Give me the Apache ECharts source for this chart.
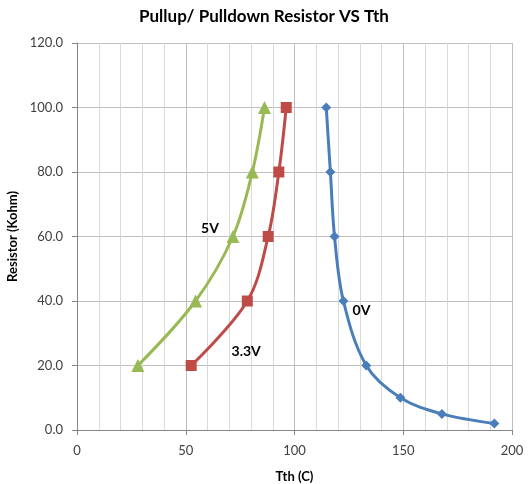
<!DOCTYPE html>
<html><head><meta charset="utf-8">
<script src="https://cdn.jsdelivr.net/npm/echarts@6/dist/echarts.min.js"></script>
<style>html,body{margin:0;padding:0;background:#fff}#c{width:528px;height:484px}</style>
</head><body><div id="c"></div>
<script>
const xTicks = [0, 50, 100, 150, 200];
const yTicks = [0, 20, 40, 60, 80, 100, 120];
const tth0V = [114.6, 116.5, 118.4, 122.5, 133.0, 148.7, 167.8, 191.9];
const res0V = [100, 80, 60, 40, 20, 10, 5, 2];
const tth33V = [52.5, 78.3, 87.9, 92.8, 96.2];
const res33V = [20, 40, 60, 80, 100];
const tth5V = [28.0, 54.5, 71.7, 80.6, 86.2];
const res5V = [20, 40, 60, 80, 100];
const seriesNames = ['0V', '3.3V', '5V'];
const labelIndex = [3, 0, 2];
const labelOffsets = [[18, 9], [55, -14], [-23, -8]];

const FONT = 'Lato, "Open Sans", sans-serif';
function mk(xs, ys, idx) {
  return xs.map((x, i) => {
    const d = { value: [x, ys[i]] };
    if (i === labelIndex[idx]) {
      d.label = { show: true, formatter: seriesNames[idx], position: 'inside', offset: labelOffsets[idx],
        fontWeight: 'bold', fontSize: 14, color: '#000', fontFamily: FONT };
    }
    return d;
  });
}
const colors = ['#4a7ebb', '#be4b48', '#98b954'];
const symbols = ['diamond', 'rect', 'triangle'];
const data = [mk(tth0V, res0V, 0), mk(tth33V, res33V, 1), mk(tth5V, res5V, 2)];
const chart = echarts.init(document.getElementById('c'));
chart.setOption({
  animation: false,
  title: { text: 'Pullup/ Pulldown Resistor VS Tth', left: 'center', top: 3,
    textStyle: { fontFamily: FONT, fontSize: 17, fontWeight: 'bold', color: '#000' } },
  grid: { left: 77, right: 16, top: 43, bottom: 54, containLabel: false, outerBoundsMode: 'none' },
  xAxis: {
    type: 'value', min: xTicks[0], max: xTicks[xTicks.length - 1], interval: 50,
    name: 'Tth (C)', nameLocation: 'middle', nameGap: 40,
    nameTextStyle: { fontFamily: FONT, fontSize: 13, fontWeight: 'bold', color: '#000' },
    axisLine: { show: true, lineStyle: { color: '#868686' } },
    axisTick: { show: true, length: 5, lineStyle: { color: '#868686' } },
    axisLabel: { fontFamily: FONT, fontSize: 13, color: '#404040', margin: 14 },
    splitLine: { show: true, lineStyle: { color: '#bfbfbf' } },
    minorTick: { show: false, splitNumber: 5 },
    minorSplitLine: { show: true, lineStyle: { color: '#d9d9d9' } }
  },
  yAxis: {
    type: 'value', min: yTicks[0], max: yTicks[yTicks.length - 1], interval: 20,
    name: 'Resistor (Kohm)', nameLocation: 'middle', nameGap: 58,
    nameTextStyle: { fontFamily: FONT, fontSize: 13, fontWeight: 'bold', color: '#000' },
    axisLine: { show: true, lineStyle: { color: '#868686' } },
    axisTick: { show: true, length: 5, lineStyle: { color: '#868686' } },
    axisLabel: { fontFamily: FONT, fontSize: 13, color: '#404040', margin: 14, formatter: v => v.toFixed(1) },
    splitLine: { show: true, lineStyle: { color: '#bfbfbf' } }
  },
  series: data.map((d, i) => ({
    name: seriesNames[i], type: 'line', data: d, smooth: 0.35,
    symbol: symbols[i], symbolSize: i === 2 ? 13 : (i === 1 ? 11 : 10),
    showAllSymbol: true,
    lineStyle: { color: colors[i], width: 3 },
    itemStyle: { color: colors[i] },
    emphasis: { disabled: true }
  }))
});
</script></body></html>
